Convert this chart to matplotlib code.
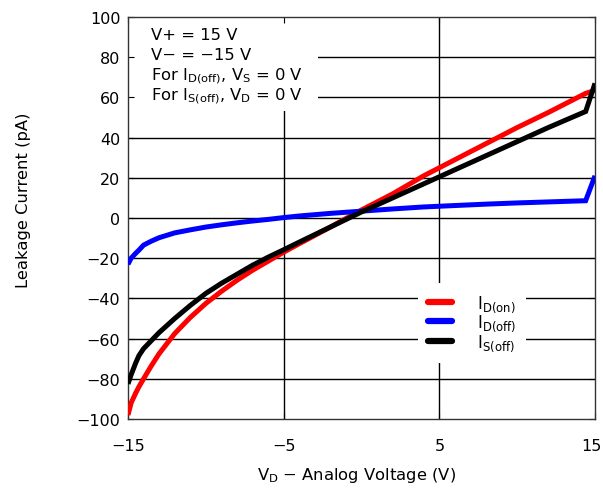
import matplotlib
matplotlib.use("Agg")
import matplotlib.pyplot as plt
from matplotlib.patches import Rectangle
from matplotlib.lines import Line2D
from matplotlib.transforms import ScaledTranslation

plt.rcParams['font.family'] = ['DejaVu Sans']
plt.rcParams['mathtext.fontset'] = 'dejavusans'

# ---- data ----
vd = [-15.0, -14.8, -14.5, -14.3, -14.0, -13.5, -13.0, -12.0, -11.0, -10.0,
      -9.0, -8.0, -7.0, -6.0, -5.0, -4.0, -2.0, 0.0, 2.0, 4.0, 6.0, 8.0,
      10.0, 12.0, 14.4, 15.0]
i_d_on = [-98, -92, -87, -84, -80, -73.5, -67.5, -57.5, -49.5, -42.5,
          -36.5, -31, -26, -21.5, -17, -12.8, -4.5, 4, 12, 21, 29, 37,
          45, 52.5, 62, 63.5]
i_d_off = [-23, -20, -17.5, -16, -13.5, -11.5, -9.8, -7.4, -5.9, -4.5,
           -3.4, -2.4, -1.5, -0.7, 0.2, 1.0, 2.3, 3.4, 4.5, 5.5, 6.2, 6.9,
           7.5, 8.0, 8.6, 21]
i_s_off = [-82.5, -78, -72, -68.5, -65, -61, -57, -50, -43.5, -37.5,
           -32.5, -28, -23.5, -19.5, -15.8, -12, -4.5, 3, 10, 17, 24, 31,
           38, 45, 53, 67]

series_labels = [r'I$_{\mathregular{D(on)}}$', r'I$_{\mathregular{D(off)}}$',
                 r'I$_{\mathregular{S(off)}}$']
series_colors = ['#ff0000', '#0000ff', '#000000']

x_ticks = [-15, -5, 5, 15]
y_ticks = [-100, -80, -60, -40, -20, 0, 20, 40, 60, 80, 100]

cond_lines = [
    'V+ = 15 V',
    'V\u2212 = \u221215 V',
    r'For I$_{\mathregular{D(off)}}$, V$_{\mathregular{S}}$ = 0 V',
    r'For I$_{\mathregular{S(off)}}$, V$_{\mathregular{D}}$ = 0 V',
]

# ---- figure ----
fig = plt.figure(figsize=(6.03, 4.89), dpi=100)
ax = fig.add_axes([128/603, 1-420/489, 467/603, 402/489])

ax.set_xlim(-15, 15)
ax.set_ylim(-100, 100)
ax.set_xticks(x_ticks)
ax.set_yticks(y_ticks)
ax.set_axisbelow(False)
ax.tick_params(direction='in', top=True, right=True, length=4, width=0.8,
               labelsize=11.5, colors='black')
ax.tick_params(axis='x', pad=14)
ax.tick_params(axis='y', pad=5.5)
for s in ax.spines.values():
    s.set_linewidth(1.0)
    s.set_color('#333333')
    s.set_zorder(2.6)

# nudge the last x tick label so it stays inside the figure (as in reference)
last_lab = ax.xaxis.get_major_ticks()[-1].label1
last_lab.set_transform(last_lab.get_transform() +
                       ScaledTranslation(-4/100, 0, fig.dpi_scale_trans))

# manual grid (below the white text box)
for xv in x_ticks[1:-1]:
    ax.axvline(xv, color='black', lw=1.0, zorder=0.8)
for yv in y_ticks[1:-1]:
    ax.axhline(yv, color='black', lw=1.0, zorder=0.8)

# white background for conditions text
ax.add_patch(Rectangle((0, (420-112)/402), (318-128)/467, 1-(420-112)/402,
                       transform=ax.transAxes, facecolor='white',
                       edgecolor='none', zorder=1))

for ys, lab, col in zip([i_d_on, i_d_off, i_s_off], series_labels, series_colors):
    ax.plot(vd, ys, color=col, lw=3.6, label=lab, zorder=3,
            solid_joinstyle='miter', solid_capstyle='butt')

# legend
handles = [Line2D([0], [0], color=c, lw=4.5, solid_capstyle='round')
           for c in series_colors]
leg = ax.legend(handles, series_labels, loc='center',
                bbox_to_anchor=((472-128)/467, (420-324)/402),
                fontsize=12, frameon=True, fancybox=False,
                handlelength=1.45, handletextpad=1.5, labelspacing=-0.05,
                borderpad=0.6)
leg.get_frame().set_edgecolor('none')
leg.get_frame().set_facecolor('white')
leg.get_frame().set_alpha(1.0)
leg.set_zorder(5)

baselines = [40, 60, 80, 100]
for txt, b in zip(cond_lines, baselines):
    ax.text((151-128)/467, (420-b)/402, txt, transform=ax.transAxes,
            fontsize=11.8, ha='left', va='baseline', zorder=2)

ax.set_xlabel(r'V$_{\mathregular{D}}$ $-$ Analog Voltage (V)', fontsize=11.8)
ax.set_ylabel('Leakage Current (pA)', fontsize=11.8)
ax.xaxis.set_label_coords((356-128)/467, (420-466)/402)
ax.yaxis.set_label_coords((31-128)/467, (420-200)/402)

fig.savefig('out.png', dpi=100)
